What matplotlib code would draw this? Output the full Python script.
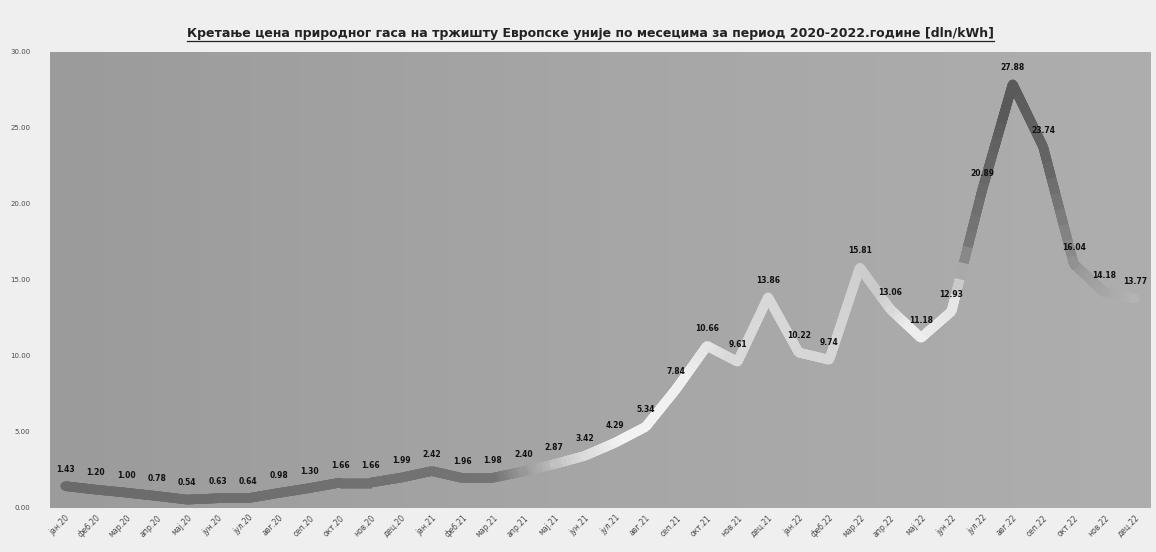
import numpy as np
import matplotlib.pyplot as plt
from matplotlib.collections import LineCollection
from matplotlib.colors import LinearSegmentedColormap
from matplotlib.lines import Line2D

# monthly natural gas price on the EU market, din/kWh
months = ['јан', 'феб', 'мар', 'апр', 'мај', 'јун',
          'јул', 'авг', 'сеп', 'окт', 'нов', 'дец']
years = ['20', '21', '22']
labels = [m + '.' + y for y in years for m in months]

prices = [1.43, 1.20, 1.00, 0.78, 0.54, 0.63, 0.64, 0.98, 1.30, 1.66, 1.66, 1.99,
          2.42, 1.96, 1.98, 2.40, 2.87, 3.42, 4.29, 5.34, 7.84, 10.66, 9.61, 13.86,
          10.22, 9.74, 15.81, 13.06, 11.18, 12.93, 20.89, 27.88, 23.74, 16.04, 14.18, 13.77]

title = ('Кретање цена природног гаса на тржишту Европске уније по месецима '
         'за период 2020-2022.године [dln/kWh]')

fig = plt.figure(figsize=(11.56, 5.52), dpi=100)
fig.patch.set_facecolor('#efefef')
ax = fig.add_axes([0.043, 0.08, 0.952, 0.826])

x = np.arange(len(prices))
y = np.array(prices)

ax.set_xlim(-0.5, len(prices) - 0.5)
ax.set_ylim(0, 30)

# plot area shading, a bit darker on the left
bg = LinearSegmentedColormap.from_list('bg', ['#9b9b9b', '#a6a6a6', '#aeaeae'])
ax.imshow(np.linspace(0, 1, 256).reshape(1, -1), cmap=bg, aspect='auto',
          extent=(-0.5, len(prices) - 0.5, 0, 30), zorder=0)

# line with gradient shade along the months
shade = LinearSegmentedColormap.from_list('shade', [
    (0.00, '#6a6a6a'), (0.40, '#747474'), (0.47, '#d0d0d0'), (0.52, '#f4f4f4'),
    (0.58, '#f0f0f0'), (0.62, '#dadada'), (0.72, '#d6d6d6'), (0.76, '#cacaca'),
    (0.79, '#efefef'), (0.832, '#e6e6e6'), (0.845, '#787878'), (0.88, '#585858'),
    (0.92, '#646464'), (0.95, '#9a9a9a'), (1.00, '#b4b4b4')])
n_sub = 30
xs, ys = [], []
for i in range(len(prices) - 1):
    t = np.linspace(0, 1, n_sub, endpoint=False)
    xs.extend(x[i] + t * (x[i + 1] - x[i]))
    ys.extend(y[i] + t * (y[i + 1] - y[i]))
xs.append(x[-1])
ys.append(y[-1])
xs, ys = np.array(xs), np.array(ys)
pts = np.column_stack([xs, ys]).reshape(-1, 1, 2)
segs = np.concatenate([pts[:-1], pts[1:]], axis=1)
cols = shade((xs[:-1] + xs[1:]) / 2 / xs[-1])
lw = 6.8
# drawn a few times so the antialiased seams between pieces fill in
for _ in range(4):
    lc = LineCollection(segs, colors=cols, linewidths=lw, capstyle='butt', zorder=2)
    ax.add_collection(lc)
# round joints at the monthly points
ax.scatter(x, y, s=(lw * 0.98) ** 2, c=shade(x / x[-1]), marker='o',
           linewidths=0, zorder=2)

for xi, yi in zip(x, y):
    ax.annotate(f'{yi:.2f}', (xi, yi), xytext=(0, 9), textcoords='offset points',
                ha='center', va='bottom', fontsize=5.5, fontweight='bold',
                color='#111111', zorder=3)

ax.set_xticks(x)
ax.set_xticklabels(labels, rotation=45, ha='right', rotation_mode='anchor',
                   fontsize=5.5, color='#4a4a4a')
ax.set_yticks(np.arange(0, 31, 5))
ax.set_yticklabels([f'{v:.2f}' for v in np.arange(0, 31, 5)], fontsize=5, color='#4a4a4a')
ax.tick_params(length=0, pad=4)
ax.yaxis.set_tick_params(pad=14)
for s in ax.spines.values():
    s.set_visible(False)

# underlined title
t = fig.text(0.511, 0.928, title, ha='center', va='bottom', fontsize=9,
             fontweight='bold', color='#222222')
fig.canvas.draw()
bb = t.get_window_extent().transformed(fig.transFigure.inverted())
fig.add_artist(Line2D([bb.x0, bb.x1], [bb.y0 - 0.002, bb.y0 - 0.002],
                      transform=fig.transFigure, color='#222222', linewidth=0.9))

fig.savefig('out.png', dpi=100, facecolor=fig.get_facecolor())
